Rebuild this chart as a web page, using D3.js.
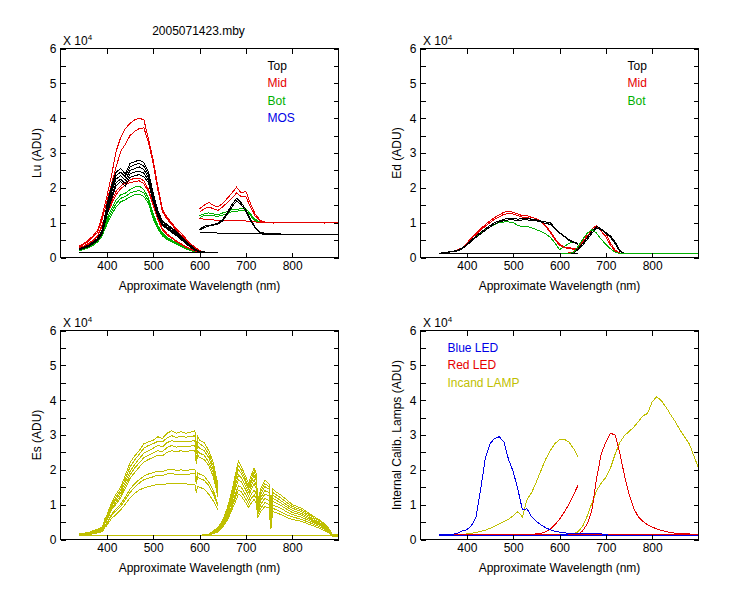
<!DOCTYPE html>
<html>
<head>
<meta charset="utf-8">
<script src="https://cdn.jsdelivr.net/npm/d3@7"></script>
<style>
  body { margin: 0; background: #fff; }
  text { font-family: "Liberation Sans", Arial, sans-serif; }
</style>
</head>
<body>
<script>
// wavelength grids (nm) for the two spectrometer halves
var wlA = [340,350,360,370,380,390,400,410,420,430,440,450,460,470,480,490,500,510,520,530,540,550,560,570,580,590,600,610,620,630,640];
var wlB = [600,610,620,630,640,650,660,670,680,690,700,710,720,730,740,750,760,770,780,790,800,810,820,830,840,850,860,870,880,890,900];
var esWlA = [340,350,360,370,380,390,396,400,410,420,430,440,450,460,470,480,490,500,510,520,530,540,550,560,570,580,590,593,596,600,610,620,630,640];
var esWlB = [600,620,640,650,660,670,678,684,690,700,706,712,718,722,726,732,741,750,754,758,764,775,790,800,820,840,860,875,880,886,900];

var xTicks = [400, 500, 600, 700, 800];
var yTicks = [0, 0.5, 1, 1.5, 2, 2.5, 3, 3.5, 4, 4.5, 5, 5.5, 6];

// values in units of 10^4 ADU
// Lu
var luTopA = [
  [0.25,0.30,0.35,0.45,0.55,0.80,1.50,2.05,2.45,2.55,2.40,2.70,2.75,2.80,2.72,2.45,1.85,1.35,1.05,0.95,0.85,0.75,0.62,0.48,0.36,0.25,0.18,0.16,0.15,0.15,0.15],
  [0.24,0.29,0.34,0.43,0.53,0.76,1.42,1.95,2.35,2.45,2.32,2.60,2.66,2.70,2.62,2.38,1.80,1.30,1.02,0.92,0.82,0.72,0.60,0.46,0.34,0.24,0.17,0.15,0.15,0.15,0.15],
  [0.23,0.28,0.33,0.42,0.51,0.72,1.35,1.85,2.25,2.35,2.22,2.50,2.55,2.60,2.52,2.30,1.75,1.26,0.98,0.88,0.78,0.69,0.57,0.44,0.33,0.23,0.17,0.15,0.15,0.15,0.15],
  [0.22,0.27,0.32,0.40,0.49,0.70,1.28,1.75,2.15,2.25,2.12,2.40,2.45,2.48,2.42,2.22,1.68,1.22,0.95,0.85,0.75,0.66,0.55,0.42,0.32,0.22,0.16,0.15,0.15,0.15,0.15],
  [0.22,0.26,0.31,0.39,0.48,0.68,1.20,1.68,2.05,2.18,2.05,2.30,2.35,2.38,2.32,2.15,1.62,1.18,0.92,0.82,0.72,0.63,0.52,0.40,0.30,0.21,0.16,0.15,0.15,0.15,0.15]
];
var luMidA = [
  [0.32,0.40,0.50,0.62,0.78,1.20,1.75,2.35,3.05,3.45,3.70,3.85,3.95,4.00,3.95,3.40,2.80,2.05,1.38,1.15,1.00,0.82,0.70,0.55,0.40,0.30,0.20,0.16,0.15,0.15,0.15],
  [0.30,0.38,0.46,0.58,0.72,1.10,1.60,2.10,2.60,3.05,3.25,3.50,3.62,3.70,3.72,3.30,2.70,1.95,1.32,1.10,0.95,0.78,0.65,0.50,0.38,0.27,0.18,0.15,0.15,0.15,0.15],
  [0.28,0.33,0.40,0.50,0.62,0.95,1.30,1.60,1.90,2.05,2.15,2.22,2.28,2.28,2.20,1.95,1.55,1.15,0.82,0.68,0.58,0.48,0.40,0.32,0.25,0.20,0.16,0.15,0.15,0.15,0.15],
  [0.27,0.32,0.38,0.48,0.60,0.90,1.25,1.52,1.80,1.98,2.08,2.15,2.18,2.20,2.12,1.88,1.50,1.10,0.78,0.65,0.55,0.46,0.38,0.30,0.24,0.19,0.16,0.15,0.15,0.15,0.15]
];
var luBotA = [
  [0.22,0.27,0.32,0.40,0.50,0.70,1.10,1.40,1.65,1.80,1.85,1.95,2.02,2.05,1.95,1.70,1.25,0.92,0.70,0.58,0.50,0.42,0.35,0.28,0.22,0.18,0.15,0.15,0.15,0.15,0.15],
  [0.20,0.25,0.30,0.38,0.47,0.66,1.02,1.30,1.55,1.70,1.75,1.85,1.90,1.92,1.85,1.62,1.18,0.88,0.66,0.55,0.47,0.40,0.33,0.27,0.21,0.17,0.15,0.15,0.15,0.15,0.15],
  [0.19,0.23,0.28,0.35,0.44,0.62,0.95,1.22,1.45,1.60,1.66,1.74,1.80,1.82,1.75,1.55,1.12,0.82,0.62,0.52,0.45,0.38,0.31,0.25,0.20,0.16,0.15,0.15,0.15,0.15,0.15]
];
var luTopB = [
  [0.80,0.90,0.92,0.95,0.98,1.10,1.30,1.52,1.70,1.58,1.38,1.10,0.88,0.72,0.70,0.69,0.68,0.68,0.67,0.67,0.67,0.66,0.66,0.66,0.66,0.66,0.65,0.65,0.65,0.65,0.65],
  [0.78,0.86,0.90,0.93,0.96,1.05,1.25,1.45,1.62,1.52,1.32,1.05,0.85,0.70,0.69,0.68,0.68,0.67,0.67,0.66,0.66,0.66,0.66,0.65,0.65,0.65,0.65,0.65,0.65,0.65,0.65],
  [0.72,0.72,0.71,0.71,0.70,0.70,0.70,0.69,0.69,0.69,0.68,0.68,0.68,0.68,0.67,0.67,0.67,0.67,0.67,0.66,0.66,0.66,0.66,0.66,0.66,0.65,0.65,0.65,0.65,0.65,0.65]
];
var luMidB = [
  [1.40,1.50,1.58,1.50,1.45,1.55,1.70,1.85,2.02,1.85,1.90,1.55,1.25,1.08,1.02,1.00,1.01,1.00,0.99,1.01,1.00,1.00,1.01,0.99,1.00,1.01,1.00,1.00,1.01,1.00,1.01],
  [1.30,1.40,1.45,1.40,1.35,1.45,1.58,1.70,1.85,1.75,1.75,1.45,1.18,1.05,1.00,1.00,0.99,1.00,1.01,1.00,0.99,1.00,1.00,1.01,0.99,1.00,1.00,0.99,1.00,1.00,1.00],
  [1.12,1.10,1.08,1.08,1.06,1.05,1.05,1.06,1.05,1.05,1.05,1.03,1.02,1.01,1.00,1.00,1.00,1.01,1.00,1.00,1.00,1.01,1.00,1.00,1.00,1.01,1.00,1.00,1.01,1.00,1.02]
];
var luBotB = [
  [1.20,1.25,1.28,1.25,1.22,1.28,1.32,1.38,1.38,1.40,1.40,1.25,1.10,1.02,1.00,1.00,1.00,1.00,1.00,1.00,1.00,1.00,1.00,1.00,1.00,1.00,1.00,1.00,1.00,1.00,1.00],
  [1.15,1.20,1.22,1.20,1.18,1.22,1.26,1.32,1.33,1.35,1.34,1.20,1.06,1.01,1.00,1.00,1.00,1.00,1.00,1.00,1.00,1.00,1.00,1.00,1.00,1.00,1.00,1.00,1.00,1.00,1.00]
];
var luFlatWl = [340, 640];
var luTopFlat = [0.15, 0.15];

// Ed
var edTopA = [
  [0.12,0.14,0.16,0.18,0.20,0.27,0.38,0.50,0.62,0.72,0.82,0.92,1.00,1.05,1.10,1.12,1.12,1.10,1.12,1.12,1.10,1.08,1.05,1.02,1.00,0.85,0.72,0.62,0.52,0.45,0.40],
  [0.12,0.13,0.15,0.17,0.19,0.25,0.35,0.47,0.58,0.68,0.78,0.88,0.96,1.02,1.06,1.08,1.08,1.06,1.08,1.08,1.06,1.05,1.02,0.98,0.95,0.82,0.70,0.60,0.50,0.43,0.38]
];
var edMidA = [
  [0.12,0.14,0.16,0.18,0.22,0.28,0.40,0.58,0.70,0.82,0.95,1.05,1.15,1.22,1.30,1.32,1.30,1.25,1.20,1.20,1.15,1.12,1.05,0.92,0.75,0.55,0.38,0.30,0.28,0.26,0.24],
  [0.12,0.13,0.15,0.17,0.21,0.26,0.38,0.55,0.66,0.78,0.90,1.00,1.10,1.17,1.24,1.26,1.25,1.20,1.16,1.15,1.10,1.08,1.02,0.90,0.72,0.52,0.35,0.28,0.26,0.24,0.22]
];
var edBotA = [
  [0.12,0.13,0.15,0.17,0.20,0.26,0.36,0.48,0.60,0.70,0.80,0.88,0.95,1.00,1.02,1.02,1.00,0.92,0.88,0.90,0.85,0.80,0.75,0.68,0.58,0.42,0.22,0.32,0.40,0.45,0.40]
];
var edTopB = [
  [0.12,0.12,0.12,0.14,0.25,0.40,0.58,0.75,0.90,0.82,0.72,0.62,0.45,0.20,0.12,0.12,0.12,0.12,0.12,0.12,0.12,0.12,0.12,0.12,0.12,0.12,0.12,0.12,0.12,0.12,0.12],
  [0.12,0.12,0.12,0.13,0.22,0.35,0.52,0.70,0.85,0.80,0.68,0.58,0.40,0.18,0.12,0.12,0.12,0.12,0.12,0.12,0.12,0.12,0.12,0.12,0.12,0.12,0.12,0.12,0.12,0.12,0.12]
];
var edMidB = [
  [0.12,0.12,0.13,0.15,0.30,0.50,0.68,0.82,0.92,0.75,0.60,0.35,0.18,0.13,0.12,0.12,0.12,0.12,0.12,0.12,0.12,0.12,0.12,0.12,0.12,0.12,0.12,0.12,0.12,0.12,0.12],
  [0.12,0.12,0.12,0.14,0.28,0.45,0.62,0.78,0.88,0.82,0.68,0.42,0.22,0.13,0.12,0.12,0.12,0.12,0.12,0.12,0.12,0.12,0.12,0.12,0.12,0.12,0.12,0.12,0.12,0.12,0.12]
];
var edBotB = [
  [0.12,0.12,0.12,0.14,0.32,0.52,0.70,0.80,0.70,0.52,0.38,0.25,0.15,0.12,0.12,0.12,0.12,0.12,0.12,0.12,0.12,0.12,0.12,0.12,0.12,0.12,0.12,0.12,0.12,0.12,0.12]
];
var edFlatWl = [340, 640];
var edTopFlat = [0.12, 0.12];

// Es
var esA = [
  [0.17,0.18,0.20,0.25,0.30,0.35,0.60,0.70,1.05,1.30,1.50,1.85,2.20,2.40,2.55,2.75,2.80,2.85,2.95,2.90,3.05,3.12,3.05,3.10,3.05,3.08,3.12,2.70,2.95,2.85,2.78,2.55,2.20,1.55],
  [0.16,0.17,0.19,0.23,0.28,0.33,0.56,0.66,1.00,1.22,1.42,1.75,2.08,2.28,2.45,2.62,2.70,2.75,2.82,2.80,2.92,2.98,2.93,2.97,2.94,2.95,2.98,2.55,2.82,2.75,2.66,2.45,2.10,1.48],
  [0.16,0.17,0.18,0.22,0.27,0.31,0.52,0.62,0.95,1.15,1.35,1.65,1.95,2.15,2.32,2.48,2.55,2.62,2.70,2.66,2.78,2.84,2.80,2.83,2.80,2.82,2.84,2.45,2.70,2.62,2.55,2.35,2.00,1.40],
  [0.15,0.16,0.18,0.21,0.26,0.30,0.50,0.58,0.90,1.08,1.27,1.55,1.85,2.05,2.20,2.35,2.42,2.48,2.55,2.52,2.64,2.70,2.65,2.68,2.66,2.68,2.70,2.30,2.55,2.48,2.42,2.22,1.90,1.30],
  [0.15,0.16,0.17,0.20,0.25,0.29,0.47,0.55,0.85,1.02,1.20,1.47,1.75,1.92,2.08,2.22,2.30,2.35,2.42,2.40,2.50,2.55,2.52,2.55,2.52,2.55,2.56,2.18,2.42,2.36,2.30,2.12,1.80,1.22],
  [0.14,0.15,0.16,0.19,0.22,0.26,0.42,0.48,0.72,0.88,1.02,1.22,1.45,1.60,1.72,1.82,1.88,1.92,1.96,1.95,2.00,2.02,1.98,2.00,1.98,2.00,2.02,1.70,1.92,1.88,1.82,1.65,1.40,1.00],
  [0.13,0.14,0.15,0.18,0.21,0.25,0.40,0.45,0.68,0.82,0.95,1.15,1.35,1.50,1.62,1.72,1.76,1.80,1.85,1.83,1.88,1.90,1.86,1.88,1.87,1.88,1.90,1.60,1.80,1.76,1.70,1.55,1.30,0.95],
  [0.12,0.13,0.14,0.16,0.19,0.22,0.35,0.40,0.60,0.72,0.85,1.02,1.20,1.32,1.42,1.48,1.52,1.55,1.58,1.57,1.60,1.62,1.60,1.62,1.60,1.58,1.58,1.35,1.52,1.50,1.45,1.30,1.10,0.85]
];
var esB = [
  [0.12,0.15,0.35,0.55,0.90,1.40,1.90,2.25,2.10,1.80,1.60,1.85,2.05,1.90,1.10,1.45,1.70,1.60,1.00,1.45,1.38,1.28,1.12,1.00,0.90,0.72,0.55,0.40,0.30,0.15,0.15],
  [0.12,0.15,0.33,0.52,0.85,1.32,1.80,2.12,2.00,1.70,1.52,1.75,1.95,1.80,1.05,1.38,1.60,1.52,0.92,1.35,1.30,1.20,1.05,0.95,0.85,0.68,0.52,0.38,0.28,0.14,0.14],
  [0.12,0.14,0.31,0.50,0.80,1.25,1.70,2.00,1.90,1.62,1.45,1.65,1.85,1.70,0.98,1.30,1.52,1.45,0.85,1.28,1.22,1.12,0.98,0.90,0.80,0.64,0.48,0.35,0.26,0.13,0.13],
  [0.11,0.14,0.30,0.47,0.75,1.15,1.58,1.85,1.78,1.52,1.35,1.55,1.72,1.58,0.90,1.20,1.40,1.35,0.75,1.18,1.14,1.05,0.92,0.84,0.75,0.60,0.45,0.32,0.24,0.12,0.12],
  [0.11,0.13,0.28,0.44,0.70,1.08,1.48,1.72,1.66,1.42,1.25,1.45,1.60,1.48,0.85,1.12,1.30,1.25,0.65,1.10,1.06,0.98,0.86,0.78,0.70,0.56,0.42,0.30,0.22,0.12,0.12],
  [0.11,0.13,0.26,0.40,0.64,0.98,1.32,1.55,1.50,1.28,1.12,1.30,1.42,1.32,0.78,1.00,1.18,1.12,0.50,1.00,0.96,0.90,0.78,0.72,0.64,0.52,0.40,0.28,0.21,0.11,0.11],
  [0.10,0.12,0.24,0.38,0.60,0.92,1.22,1.42,1.38,1.16,1.02,1.18,1.28,1.18,0.72,0.90,1.06,1.00,0.40,0.90,0.86,0.80,0.70,0.65,0.58,0.47,0.36,0.25,0.20,0.10,0.10],
  [0.10,0.12,0.22,0.35,0.55,0.85,1.10,1.30,1.25,1.05,0.92,1.05,1.15,1.05,0.65,0.80,0.95,0.90,0.30,0.80,0.78,0.72,0.62,0.58,0.52,0.42,0.32,0.22,0.18,0.10,0.10]
];
var esFlatWl = [340, 890];
var esFlat = [0.11, 0.11];

// internal calibration lamps
var blueLedA = [0.15,0.15,0.15,0.15,0.18,0.25,0.28,0.40,0.65,1.45,2.35,2.75,2.90,2.95,2.80,2.30,1.95,1.45,0.85,0.88,0.65,0.52,0.42,0.34,0.28,0.24,0.21,0.19,0.18,0.17,0.16];
var blueLedB = [0.15,0.15,0.16,0.17,0.18,0.18,0.18,0.17,0.17,0.16,0.14,0.12,0.12,0.12,0.12,0.12,0.12,0.12,0.12,0.12,0.12,0.12,0.12,0.12,0.12,0.12,0.12,0.12,0.12,0.12,0.12];
var redLedA = [0.15,0.15,0.14,0.13,0.12,0.12,0.12,0.12,0.12,0.12,0.12,0.12,0.12,0.12,0.12,0.12,0.12,0.12,0.13,0.14,0.15,0.16,0.18,0.22,0.30,0.42,0.58,0.78,1.00,1.28,1.55];
var redLedB = [0.12,0.12,0.12,0.13,0.15,0.25,0.45,0.85,1.75,2.45,2.80,3.05,3.00,2.50,1.85,1.30,0.90,0.65,0.52,0.42,0.36,0.30,0.26,0.23,0.20,0.18,0.17,0.16,0.16,0.13,0.12];
var lampA = [0.12,0.12,0.13,0.13,0.14,0.15,0.16,0.18,0.20,0.23,0.27,0.32,0.38,0.45,0.52,0.58,0.68,0.80,0.65,1.15,1.35,1.65,1.98,2.30,2.55,2.75,2.87,2.88,2.80,2.62,2.38];
var lampB = [0.12,0.13,0.15,0.17,0.22,0.38,0.68,1.05,1.40,1.62,1.78,2.05,2.45,2.78,2.98,3.10,3.22,3.38,3.55,3.62,3.95,4.10,3.98,3.80,3.58,3.38,3.15,2.95,2.75,2.40,2.05];
var calFlatWl = [340, 900];
var blueFlat = [0.12, 0.12];
var redFlat = [0.13, 0.13];

var BLACK = "#000000", RED = "#e60000", GREEN = "#00b000", BLUE = "#0000e6", OLIVE = "#bfbf00";

var pw = 278, ph = 209;

var svg = d3.select("body").append("svg")
    .attr("width", 750)
    .attr("height", 600);

function group(wl, rows, color) {
    return rows.map(function(v) { return {wl: wl, v: v, color: color}; });
}

function drawPanel(p) {
    var g = svg.append("g")
        .attr("transform", "translate(" + p.left + "," + p.top + ")");

    var x = d3.scaleLinear().domain([300, 900]).range([0, pw]);
    var y = d3.scaleLinear().domain([0, 6]).range([ph, 0]);

    var line = d3.line()
        .x(function(d) { return x(d[0]); })
        .y(function(d) { return y(d[1]); });

    p.series.forEach(function(s) {
        g.append("path")
            .datum(d3.zip(s.wl, s.v))
            .attr("d", line)
            .attr("fill", "none")
            .attr("stroke", s.color)
            .attr("stroke-width", 1)
            .attr("shape-rendering", "crispEdges");
    });

    g.append("rect")
        .attr("width", pw)
        .attr("height", ph)
        .attr("fill", "none")
        .attr("stroke", "#000")
        .attr("shape-rendering", "crispEdges");

    var ax = [
        g.append("g").attr("transform", "translate(0," + ph + ")")
            .call(d3.axisBottom(x).tickValues(xTicks).tickSize(-5).tickPadding(4)),
        g.append("g")
            .call(d3.axisTop(x).tickValues(xTicks).tickSize(-5).tickFormat("")),
        g.append("g")
            .call(d3.axisLeft(y).tickValues(yTicks).tickSize(-5).tickPadding(4)
                .tickFormat(function(d) { return d % 1 === 0 ? d : ""; })),
        g.append("g").attr("transform", "translate(" + pw + ",0)")
            .call(d3.axisRight(y).tickValues(yTicks).tickSize(-5).tickFormat(""))
    ];
    ax.forEach(function(a) {
        a.attr("font-size", 12).attr("font-family", "Liberation Sans, Arial, sans-serif");
        a.select(".domain").remove();
        a.selectAll("line").attr("shape-rendering", "crispEdges");
        a.selectAll("text").attr("fill", "#000");
    });

    // exponent label
    var ex = g.append("text")
        .attr("x", 2.5)
        .attr("y", -3.5)
        .attr("font-size", 12);
    ex.append("tspan").text("X 10");
    ex.append("tspan").attr("font-size", 8).attr("dy", -5).text("4");

    g.append("text")
        .attr("transform", "translate(-19.5," + (ph / 2) + ") rotate(-90)")
        .attr("text-anchor", "middle")
        .attr("font-size", 12)
        .text(p.ylabel);

    g.append("text")
        .attr("x", pw / 2)
        .attr("y", ph + 32)
        .attr("text-anchor", "middle")
        .attr("font-size", 12)
        .text("Approximate Wavelength (nm)");

    if (p.title) {
        g.append("text")
            .attr("x", pw / 2 - 1)
            .attr("y", -14)
            .attr("text-anchor", "middle")
            .attr("font-size", 12)
            .text(p.title);
    }

    g.selectAll(".legend")
        .data(p.legend)
        .enter().append("text")
        .attr("class", "legend")
        .attr("x", p.legendX)
        .attr("y", function(d, i) { return 21.5 + i * 17.3; })
        .attr("font-size", 12)
        .attr("fill", function(d) { return d.color; })
        .text(function(d) { return d.name; });
}

drawPanel({
    left: 60.5, top: 48.5,
    title: "2005071423.mby",
    ylabel: "Lu (ADU)",
    legendX: 207,
    legend: [{name: "Top", color: BLACK}, {name: "Mid", color: RED}, {name: "Bot", color: GREEN}, {name: "MOS", color: BLUE}],
    series: [].concat(
        group(wlA, luBotA, GREEN), group(wlB, luBotB, GREEN),
        group(wlA, luMidA, RED), group(wlB, luMidB, RED),
        group(wlA, luTopA, BLACK), group(wlB, luTopB, BLACK),
        [{wl: luFlatWl, v: luTopFlat, color: BLACK}]
    )
});

drawPanel({
    left: 420.5, top: 48.5,
    ylabel: "Ed  (ADU)",
    legendX: 207,
    legend: [{name: "Top", color: BLACK}, {name: "Mid", color: RED}, {name: "Bot", color: GREEN}],
    series: [].concat(
        group(wlA, edBotA, GREEN),
        group(wlA, edMidA, RED), group(wlB, edMidB, RED),
        group(wlA, edTopA, BLACK), group(wlB, edTopB, BLACK),
        [{wl: edFlatWl, v: edTopFlat, color: BLACK}],
        group(wlB, edBotB, GREEN)
    )
});

drawPanel({
    left: 60.5, top: 330.5,
    ylabel: "Es  (ADU)",
    legendX: 207,
    legend: [],
    series: [].concat(
        group(esWlA, esA, OLIVE), group(esWlB, esB, OLIVE),
        [{wl: esFlatWl, v: esFlat, color: OLIVE}]
    )
});

drawPanel({
    left: 420.5, top: 330.5,
    ylabel: "Internal Calib. Lamps (ADU)",
    legendX: 27,
    legend: [{name: "Blue LED", color: BLUE}, {name: "Red LED", color: RED}, {name: "Incand LAMP", color: OLIVE}],
    series: [
        {wl: wlA, v: lampA, color: OLIVE}, {wl: wlB, v: lampB, color: OLIVE},
        {wl: calFlatWl, v: redFlat, color: RED},
        {wl: wlA, v: redLedA, color: RED}, {wl: wlB, v: redLedB, color: RED},
        {wl: calFlatWl, v: blueFlat, color: BLUE},
        {wl: wlA, v: blueLedA, color: BLUE}, {wl: wlB, v: blueLedB, color: BLUE}
    ]
});
</script>
</body>
</html>
